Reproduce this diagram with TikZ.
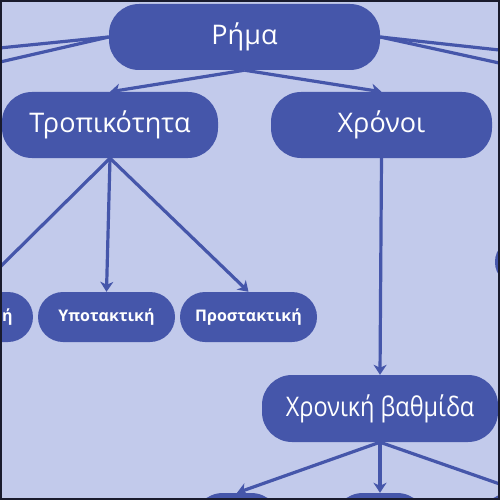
\documentclass[tikz,border=0pt]{standalone}
\usepackage{fontspec}
\setmainfont{Open Sans}
\newfontfamily\narrowfont[FakeStretch=0.87]{Open Sans}
\usetikzlibrary{arrows.meta}
\definecolor{bgc}{RGB}{194,202,235}
\definecolor{nodec}{RGB}{69,86,170}
\definecolor{framec}{RGB}{25,27,45}
\tikzset{
  pill/.style={fill=nodec, rounded corners=30pt, text=white, inner sep=0pt, font=\fontsize{27}{32}\selectfont},
  smallpill/.style={fill=nodec, rounded corners=25pt, text=white, inner sep=0pt, font=\bfseries\fontsize{16}{19}\selectfont, minimum height=50pt},
  link/.style={draw=nodec, line width=3.2pt, -{Stealth[length=10pt,width=13pt,inset=3pt]}},
}
\begin{document}
\begin{tikzpicture}[x=1pt,y=-1pt]
\useasboundingbox (0,0) rectangle (500,500);
\fill[bgc] (0,0) rectangle (500,500);
\begin{scope}
\clip (0,0) rectangle (500,500);
\node[pill, minimum width=271pt, minimum height=66pt] (rima) at (244.5,37) {Ρήμα};
\node[pill, minimum width=216pt, minimum height=66pt] (trop) at (110,125) {Τροπικότητα};
\node[pill, minimum width=221pt, minimum height=66pt] (xron) at (381.5,125) {Χρόνοι};
\node[smallpill, minimum width=116pt] (orist) at (-25,317) {Οριστική};
\node[smallpill, minimum width=137pt] (ypot) at (106.5,317) {Υποτακτική};
\node[smallpill, minimum width=137pt] (prost) at (248.5,317) {Προστακτική};
\node[pill, minimum width=236pt, minimum height=67pt, font=\narrowfont\fontsize{27}{32}\selectfont] (vath) at (380,408.5) {Χρονική βαθμίδα};
\node[pill, minimum width=88pt, minimum height=66pt] (b1) at (237,526) {};
\node[pill, minimum width=94pt, minimum height=66pt] (b2) at (380,526) {};
\node[pill, minimum width=90pt, minimum height=66pt] (b3) at (525,526) {};
\node[pill, minimum width=130pt, minimum height=45pt, rounded corners=22pt] (rnode) at (560,262) {};
\coordinate (l1) at (-100,58);
\coordinate (l2) at (-100,85);
\coordinate (r1) at (600,61);
\coordinate (r2) at (600,85);
\draw[link] (rima.west) -- (l1);
\draw[link] (rima.west) -- (l2);
\draw[link] (rima.east) -- (r1);
\draw[link] (rima.east) -- (r2);
\draw[link] (rima.south) -- (trop.north);
\draw[link] (rima.south) -- (xron.north);
\draw[link] (trop.south) -- (orist.north);
\draw[link] (trop.south) -- (ypot.north);
\draw[link] (trop.south) -- (prost.north);
\draw[link] (xron.south) -- (vath.north);
\draw[link] (vath.south) -- (b1.north);
\draw[link] (vath.south) -- (b2.north);
\draw[link] (vath.south) -- (b3.north);
\end{scope}
\draw[framec, line width=4pt] (0,0) rectangle (500,500);
\end{tikzpicture}
\end{document}
